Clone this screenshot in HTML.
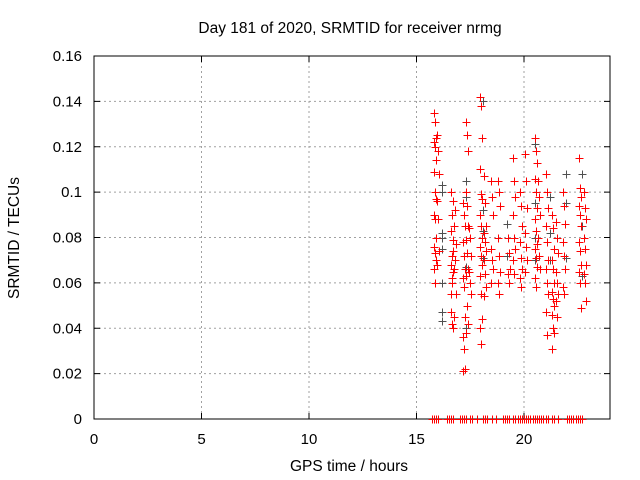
<!DOCTYPE html>
<html><head><meta charset="utf-8"><style>
body{margin:0;background:#fff}
svg{display:block;font-family:"Liberation Sans",sans-serif}
</style></head><body>
<svg id="chart" width="640" height="480" viewBox="0 0 640 480">
<text x="350" y="33" text-anchor="middle" font-size="15.5">Day 181 of 2020, SRMTID for receiver nrmg</text>
<g id="grid"></g>
<g id="axes"></g>
<g id="marks"></g>
<text x="349" y="471" text-anchor="middle" font-size="15.5">GPS time / hours</text>
<text transform="translate(19,238) rotate(-90)" text-anchor="middle" font-size="15.5">SRMTID / TECUs</text>
</svg>
<script>
const xTicks=[0,5,10,15,20];
const yTicks=[0,0.02,0.04,0.06,0.08,0.1,0.12,0.14,0.16];
const yTickLabels=["0","0.02","0.04","0.06","0.08","0.1","0.12","0.14","0.16"];
const redCols=[
[15.85,[.135,.131,.124,.122,.12,.114,.109,.1,.097,.09,.088,.08,.076,.073,.07,.066,.06]],
[16.0,[.125,.118,.108,.096,.088,.074,.068]],
[16.65,[.047,.042,.04,.055,.06,.065,.068,.072,.079,.083,.09,.096,.1,.062,.074]],
[16.8,[.066,.07,.077,.085,.092,.055,.045]],
[17.2,[.095,.09,.085,.078,.072,.066,.062,.058,.045,.036,.031,.022,.021]],
[17.35,[.131,.125,.118,.1,.094,.085,.079,.073,.066,.063,.05,.042,.038]],
[17.5,[.084,.08,.072,.065,.06,.055]],
[18.0,[.142,.138,.124,.11,.099,.097,.09,.085,.08,.076,.072,.068,.063,.055,.044,.04,.033]],
[18.2,[.107,.095,.085,.082,.078,.074,.07,.064,.058,.054]],
[18.5,[.105,.098,.09,.075,.07,.066,.06]],
[18.85,[.105,.1,.094,.08,.072,.065,.06,.055]],
[19.3,[.08,.073,.066,.064,.06]],
[19.55,[.115,.105,.098,.09,.08,.075,.07,.064]],
[19.85,[.1,.094,.085,.078,.071,.066,.062,.058]],
[20.1,[.117,.105,.093,.082,.076,.07,.065]],
[20.55,[.124,.118,.113,.106,.1,.093,.088,.083,.077,.075,.071,.067,.062,.058]],
[20.7,[.105,.098,.09,.08,.072,.066]],
[21.05,[.108,.1,.093,.085,.078,.07,.066,.06,.055,.047,.037]],
[21.35,[.09,.084,.075,.07,.066,.06,.056,.053,.05,.046,.04,.038,.031]],
[21.55,[.087,.08,.073,.065,.06,.055,.052,.045]],
[21.85,[.1,.094,.086,.078,.072,.066,.058,.055]],
[22.6,[.115,.102,.098,.094,.09,.085,.078,.074,.068,.065,.06,.049]],
[22.85,[.1,.093,.088,.08,.075,.068,.064,.06,.052]]
];
const blackCols=[
[16.2,[.043,.047,.06,.075,.08,.082,.1,.103]],
[17.3,[.098,.105,.067,.04]],
[18.1,[.14,.083,.071,.092]],
[19.2,[.072,.086]],
[20.5,[.121,.095,.08,.07]],
[21.2,[.098,.082,.07]],
[21.95,[.095,.108,.071]],
[22.7,[.108,.085,.063]]
];
const zeroHours=[15.7,15.8,15.9,16.0,16.4,16.5,16.6,16.7,17.0,17.1,17.2,17.3,17.5,17.6,17.8,18.1,18.2,18.3,18.5,18.7,19.0,19.1,19.2,19.3,19.5,19.6,19.7,19.8,19.9,20.0,20.1,20.2,20.3,20.4,20.5,20.6,20.7,20.8,20.9,21.0,21.1,21.3,21.4,21.6,22.0,22.1,22.2,22.3,22.4,22.5,22.6,22.7];

const L=94,R=610,T=56,B=419;
const xs=v=>L+v/24*(R-L);
const ys=v=>B-v/0.16*(B-T);
const NS="http://www.w3.org/2000/svg";
function mk(tag,attrs,parent){const e=document.createElementNS(NS,tag);for(const k in attrs)e.setAttribute(k,attrs[k]);parent.appendChild(e);return e;}
const grid=document.getElementById('grid'),axes=document.getElementById('axes'),marks=document.getElementById('marks');
xTicks.forEach(t=>{
  const x=xs(t);
  if(t>0){const g=mk('line',{x1:x,x2:x,y1:T,y2:B,stroke:'#a0a0a0','stroke-dasharray':'2,3'},grid);
  
  }
  mk('line',{x1:x,x2:x,y1:B,y2:B-6,stroke:'#000'},axes);
  mk('line',{x1:x,x2:x,y1:T,y2:T+6,stroke:'#000'},axes);
  const tx=mk('text',{x:x,y:B+25,'text-anchor':'middle','font-size':15},axes);
  tx.textContent=t;
  
  
});
yTicks.forEach((t,i)=>{
  const y=ys(t);
  if(t>0&&t<0.16){const g=mk('line',{x1:L,x2:R,y1:y,y2:y,stroke:'#a0a0a0','stroke-dasharray':'2,3'},grid);
  
  }
  mk('line',{x1:L,x2:L+6,y1:y,y2:y,stroke:'#000'},axes);
  mk('line',{x1:R,x2:R-6,y1:y,y2:y,stroke:'#000'},axes);
  const tx=mk('text',{x:L-12,y:y+5,'text-anchor':'end','font-size':15},axes);
  tx.textContent=yTickLabels[i];
  
  
});
mk('rect',{x:L,y:T,width:R-L,height:B-T,fill:'none',stroke:'#000'},axes);
function plus(h,v,color){
  const x=Math.round(xs(h))+0.5,y=Math.round(ys(v))+0.5;
  const p=mk('path',{d:`M${x-4},${y}H${x+4}M${x},${y-4}V${y+4}`,stroke:color,'stroke-width':1,fill:'none'},marks);
  
  
}
blackCols.forEach(([h,vals])=>vals.forEach(v=>plus(h,v,'#505050')));
redCols.forEach(([h,vals])=>vals.forEach((v,i)=>plus(h+((i%3)-1)*0.05,v,'#ff0000')));
zeroHours.forEach(h=>plus(h,0,'#ff0000'));
</script>
</body></html>
